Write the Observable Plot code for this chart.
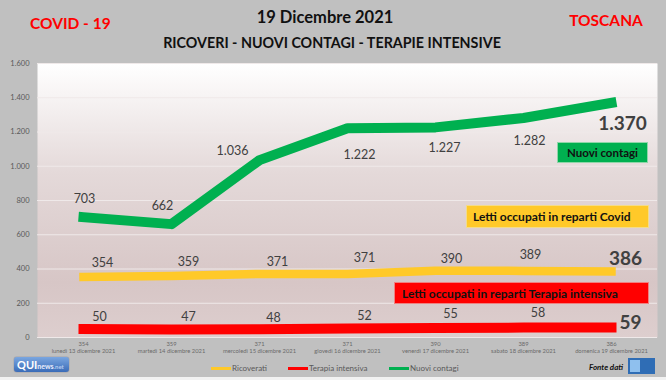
<!DOCTYPE html>
<html><head><meta charset="utf-8">
<script src="https://cdn.jsdelivr.net/npm/d3@7"></script>
<script src="https://cdn.jsdelivr.net/npm/@observablehq/plot@0.6"></script>
<style>
body{margin:0;background:#c0c0c0;}
#wrap{position:relative;width:666px;height:380px;background:#c0c0c0;overflow:hidden;font-family:Lato,"Open Sans",sans-serif;}
#wrap svg{position:absolute;left:0;top:0;}
.abs{position:absolute;white-space:nowrap;}
.c{transform:translate(-50%,-50%);}
.box{position:absolute;box-sizing:border-box;font-weight:bold;color:#111;white-space:nowrap;display:flex;align-items:center;}
.leg{position:absolute;font-size:8px;line-height:10px;color:#595959;white-space:nowrap;}
.sw{position:absolute;height:3px;width:20px;}
</style></head><body><div id="wrap"></div>
<script>
// ---- data ----
const dates = ["lunedì 13 dicembre 2021","martedì 14 dicembre 2021","mercoledì 15 dicembre 2021","giovedì 16 dicembre 2021","venerdì 17 dicembre 2021","sabato 18 dicembre 2021","domenica 19 dicembre 2021"];
const ricoverati = [354,359,371,371,390,389,386];
const terapiaIntensiva = [50,47,48,52,55,58,59];
const nuoviContagi = [703,662,1036,1222,1227,1282,1370];
const yTicks = [0,200,400,600,800,1000,1200,1400,1600];
const seriesNames = ["Ricoverati","Terapia intensiva","Nuovi contagi"];

// ---- styles / layout ----
const colors = {ric:"#ffc929", ti:"#ff0000", nc:"#00b050"};
const labelOffsets = {
  nc: [[1,-18],[-9,-18],[-27,-9],[12,27],[9,21],[6,23]],
  ric:[[19,-14],[17,-14],[18,-12],[17,-15.5],[16,-12],[7,-16]],
  ti: [[16,-12],[17,-12],[14,-11],[17,-13],[15,-14.5],[14.5,-14.4]]
};
const lastOffsets = {nc:[11,21,"middle"], ric:[14,-12,"middle"], ti:[8,-4,"start"]};

const fmt = d3.formatLocale({decimal:",",thousands:".",grouping:[3],currency:["","€"]}).format(",d");
const rows = dates.map((d,i)=>({date:d, ric:ricoverati[i], ti:terapiaIntensiva[i], nc:nuoviContagi[i]}));

const labelMarks = [];
for (const key of ["nc","ric","ti"]) {
  labelOffsets[key].forEach(([dx,dy],i)=>{
    labelMarks.push(Plot.text([rows[i]],{x:"date", y:key, text:d=>fmt(d[key]), dx, dy, fontSize:12.5, fill:"#404040"}));
  });
  const [dx,dy,anchor] = lastOffsets[key];
  const last = rows[rows.length-1];
  labelMarks.push(Plot.text([last],{x:"date", y:key, text:d=>fmt(d[key]), dx, dy, textAnchor:anchor, fontSize:19, fontWeight:"bold", fill:"#404040"}));
}

const plot = Plot.plot({
  width:666, height:380,
  marginTop:63, marginBottom:43, marginLeft:37, marginRight:9,
  style:{background:"transparent", fontFamily:"Lato, sans-serif"},
  x:{type:"point", domain:dates, padding:0.5, label:null},
  y:{domain:[0,1600], label:null},
  marks:[
    Plot.frame({fill:"url(#bgGrad)", stroke:null}),
    Plot.gridY(yTicks,{stroke:"#efe9e9", strokeOpacity:1, strokeWidth:1}),
    Plot.axisY({ticks:yTicks, tickFormat:fmt, tickSize:0, tickPadding:8, fontSize:7.5, fill:"#595959", label:null}),
    Plot.axisX({tickSize:0, tickPadding:3, fontSize:5.8, fill:"#6a6a6a", lineHeight:1.25, label:null,
      tickFormat:d=>ricoverati[dates.indexOf(d)]+"\n"+d}),
    Plot.line(rows,{x:"date", y:"ric", stroke:colors.ric, strokeWidth:8.5, strokeLinecap:"square", strokeLinejoin:"round"}),
    Plot.line(rows,{x:"date", y:"ti", stroke:colors.ti, strokeWidth:10, strokeLinecap:"square", strokeLinejoin:"round"}),
    Plot.line(rows,{x:"date", y:"nc", stroke:colors.nc, strokeWidth:10, strokeLinecap:"square", strokeLinejoin:"round"}),
    ...labelMarks
  ]
});

const defs = d3.select(plot).insert("defs",":first-child");
const g = defs.append("linearGradient").attr("id","bgGrad").attr("x1",0).attr("y1",0).attr("x2",0).attr("y2",1);
[[0,"#ffffff"],[0.4,"#e4d9d9"],[0.8,"#d7c6c6"],[1,"#ddcece"]].forEach(([o,c])=>g.append("stop").attr("offset",o).attr("stop-color",c));

const wrap = document.getElementById("wrap");
wrap.appendChild(plot);

function add(html){ wrap.insertAdjacentHTML("beforeend", html); }
// header
add(`<div class="abs" style="left:30px;top:23px;transform:translateY(-50%);font-size:15.5px;font-weight:bold;color:#ff0000;">COVID - 19</div>`);
add(`<div class="abs c" style="left:325px;top:17px;font-size:16.5px;font-weight:bold;color:#111;">19 Dicembre 2021</div>`);
add(`<div class="abs c" style="left:332px;top:42px;font-size:14.3px;font-weight:bold;color:#111;">RICOVERI - NUOVI CONTAGI - TERAPIE INTENSIVE</div>`);
add(`<div class="abs c" style="left:606px;top:20px;font-size:15.5px;font-weight:bold;color:#ff0000;">TOSCANA</div>`);
// annotation boxes
add(`<div class="box" style="left:557px;top:142px;width:91px;height:21px;background:${colors.nc};border:1px solid #8fd6a8;justify-content:center;font-size:11.5px;">Nuovi contagi</div>`);
add(`<div class="box" style="left:466px;top:205px;width:183px;height:23px;background:${colors.ric};border:1px solid #f3dc8a;padding-left:6px;font-size:12px;">Letti occupati in reparti Covid</div>`);
add(`<div class="box" style="left:394px;top:282px;width:255px;height:22px;background:${colors.ti};border:1px solid #f08080;padding-left:7px;font-size:12px;">Letti occupati in reparti Terapia intensiva</div>`);
// legend
const legPos = [[211,232],[288,309],[389,410]];
const legColors = [colors.ric, colors.ti, colors.nc];
seriesNames.forEach((n,i)=>{
  add(`<div class="sw" style="left:${legPos[i][0]}px;top:367px;background:${legColors[i]};"></div>`);
  add(`<div class="leg" style="left:${legPos[i][1]}px;top:363px;">${n}</div>`);
});
// logos / source
add(`<div class="abs" style="left:14px;top:357px;width:55px;height:15px;border-radius:3px;background:linear-gradient(#7aa6e0,#3a6cb8);box-shadow:0 0 1px #335;line-height:15px;font-size:11px;font-weight:bold;color:#fff;padding-left:3px;box-sizing:border-box;">QUI<span style="font-size:7px;font-weight:bold;color:#e8eefc;">news</span><span style="font-size:6px;color:#b8cdf0;">.net</span></div>`);
add(`<div class="abs" style="left:589px;top:362px;font-size:8px;line-height:10px;font-style:italic;font-weight:bold;color:#111;">Fonte dati</div>`);
add(`<div class="abs" style="left:628px;top:358px;width:27px;height:16px;background:#2f6db5;"><div style="position:absolute;left:2px;top:2px;width:10px;height:12px;background:#8fc0ee;"></div></div>`);
add(`<div class="abs" style="left:0;top:377px;width:666px;height:3px;background:#f2f2f2;"></div>`);
</script>
</body></html>
